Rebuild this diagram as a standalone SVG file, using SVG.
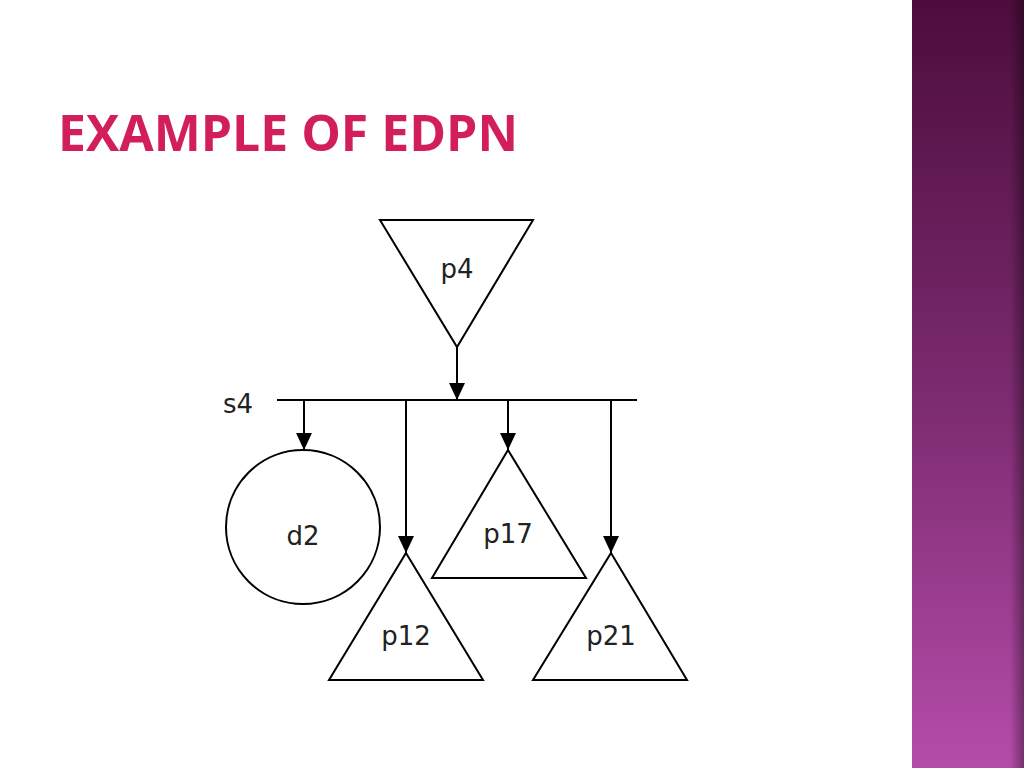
<svg xmlns="http://www.w3.org/2000/svg" width="1024" height="768" viewBox="0 0 1024 768">
<defs>
<linearGradient id="bar" x1="0" y1="0" x2="0" y2="1">
<stop offset="0" stop-color="#4c0d3c"/>
<stop offset="0.5" stop-color="#7a2a6e"/>
<stop offset="1" stop-color="#b44ca9"/>
</linearGradient>
<linearGradient id="edge" x1="0" y1="0" x2="1" y2="0">
<stop offset="0" stop-color="#000" stop-opacity="0"/>
<stop offset="1" stop-color="#000" stop-opacity="0.35"/>
</linearGradient>
<marker id="ah" markerWidth="18" markerHeight="18" refX="17" refY="8" orient="auto" markerUnits="userSpaceOnUse">
<path d="M0,0 L17,8 L0,16 Z" fill="#000"/>
</marker>
</defs>
<style>
.shape{fill:none;stroke:#000;stroke-width:2}
.conn{stroke:#000;stroke-width:2;fill:none}
.lbl{font-family:"DejaVu Sans",Verdana,sans-serif;font-size:26px;fill:#222;text-anchor:middle}
.title{font-family:"Open Sans","DejaVu Sans",sans-serif;font-weight:bold;font-size:50px;fill:#d21f5b}
</style>
<rect width="1024" height="768" fill="#fff"/>
<rect x="912" y="0" width="112" height="768" fill="url(#bar)"/>
<rect x="1010" y="0" width="14" height="768" fill="url(#edge)"/>
<text class="title" x="58" y="151" textLength="460" lengthAdjust="spacingAndGlyphs">EXAMPLE OF EDPN</text>

<g id="connectors">
<line class="conn" x1="277" y1="400" x2="637" y2="400"/>
<line class="conn" x1="457" y1="347" x2="457" y2="400" marker-end="url(#ah)"/>
<line class="conn" x1="304" y1="400" x2="304" y2="450" marker-end="url(#ah)"/>
<line class="conn" x1="406" y1="400" x2="406" y2="553" marker-end="url(#ah)"/>
<line class="conn" x1="508" y1="400" x2="508" y2="450" marker-end="url(#ah)"/>
<line class="conn" x1="611" y1="400" x2="611" y2="553" marker-end="url(#ah)"/>
</g>

<g id="s4"><text class="lbl" x="238" y="413">s4</text></g>
<g id="p4">
<polygon class="shape" points="380,220 533,220 457,347"/>
<text class="lbl" x="457" y="278">p4</text>
</g>
<g id="d2">
<circle class="shape" cx="303" cy="527" r="77"/>
<text class="lbl" x="303" y="545">d2</text>
</g>
<g id="p17">
<polygon class="shape" points="508,450 586,578 432,578"/>
<text class="lbl" x="508" y="543">p17</text>
</g>
<g id="p12">
<polygon class="shape" points="406,553 483,680 329,680"/>
<text class="lbl" x="406" y="645">p12</text>
</g>
<g id="p21">
<polygon class="shape" points="611,553 687,680 533,680"/>
<text class="lbl" x="611" y="645">p21</text>
</g>
</svg>
